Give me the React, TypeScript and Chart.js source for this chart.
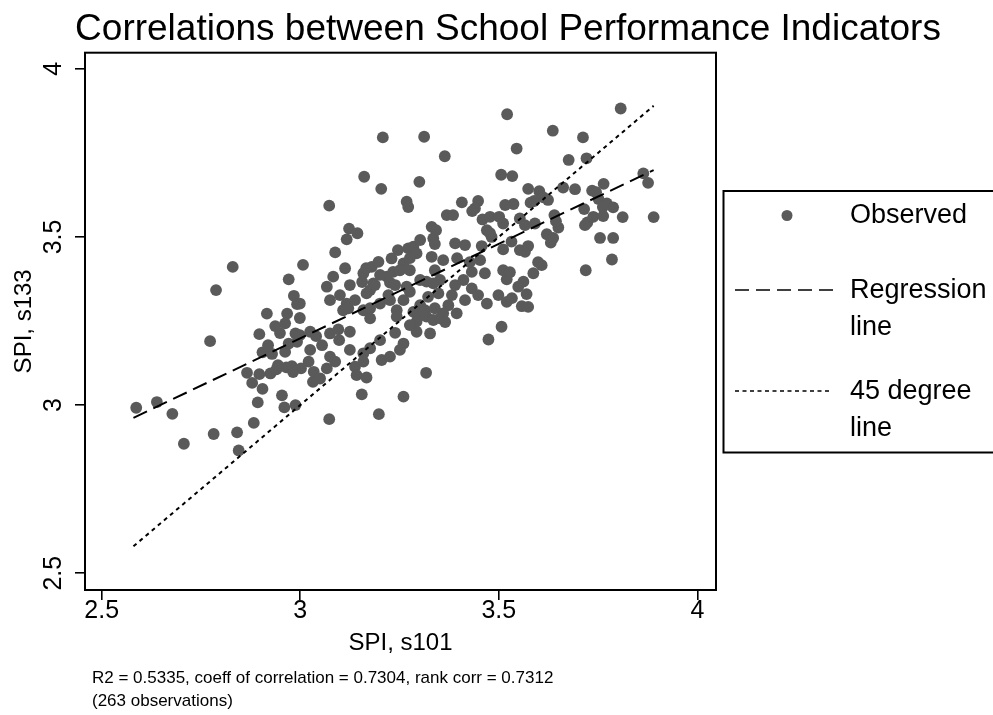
import React, { useEffect, useRef } from 'react';
import { Chart, registerables } from 'chart.js';

Chart.register(...registerables);

const FONT = "'Liberation Sans', Arial, Helvetica, sans-serif";

const titleText = 'Correlations between School Performance Indicators';
const xTitle = 'SPI, s101';
const yTitle = 'SPI, s133';
const xTicks = [2.5, 3, 3.5, 4];
const yTicks = [2.5, 3, 3.5, 4];
const legendObserved = ['Observed'];
const legendRegression = ['Regression', 'line'];
const legendDiagonal = ['45 degree', 'line'];
const noteLines = [
  'R2 = 0.5335, coeff of correlation = 0.7304, rank corr = 0.7312',
  '(263 observations)',
];

const obsX = [
  2.830, 3.007, 2.971, 2.788, 2.984, 2.992, 2.916, 2.967, 2.937, 2.962,
  2.897, 2.988, 3.025, 2.773, 2.971, 2.992, 2.905, 2.929, 2.962, 2.866,
  2.897, 2.925, 2.940, 2.965, 2.979, 3.002, 3.021, 3.034, 3.032, 2.879,
  2.905, 2.587, 2.639, 2.678, 2.893, 2.954, 2.960, 2.988, 2.883, 2.782,
  2.841, 2.707, 2.845, 3.521, 3.208, 3.312, 3.364, 3.161, 3.204, 3.300,
  3.506, 3.073, 3.268, 3.272, 3.407, 3.448, 3.440, 3.369, 3.385, 3.459,
  3.478, 3.501, 3.511, 3.123, 3.144, 3.117, 3.331, 3.335, 3.339, 3.470,
  3.482, 3.088, 3.390, 3.415, 3.457, 3.511, 3.331, 3.360, 3.272, 3.285,
  3.293, 3.230, 3.260, 3.453, 3.083, 3.125, 3.159, 3.180, 3.197, 3.218,
  3.234, 3.251, 3.276, 3.067, 3.184, 3.226, 3.268, 3.318, 3.352, 3.411,
  3.432, 3.465, 3.511, 3.520, 3.395, 3.176, 3.188, 3.167, 3.276, 3.335,
  3.348, 3.322, 3.432, 2.999, 3.100, 3.117, 3.121, 3.159, 3.176, 3.176,
  3.201, 3.222, 3.243, 3.260, 3.243, 3.285, 3.297, 3.293, 3.318, 3.335,
  3.352, 3.373, 3.360, 3.394, 3.327, 3.293, 3.470, 3.499, 3.520, 3.507,
  3.474, 3.040, 2.999, 3.075, 3.096, 3.098, 3.125, 3.239, 3.260, 3.251,
  3.176, 3.159, 3.205, 3.226, 3.075, 3.088, 3.067, 3.050, 3.138, 3.142,
  3.167, 3.159, 3.317, 3.155, 3.260, 3.073, 3.198, 3.807, 3.636, 3.712,
  3.545, 3.676, 3.721, 3.534, 3.864, 3.876, 3.574, 3.602, 3.612, 3.662,
  3.692, 3.735, 3.764, 3.537, 3.580, 3.589, 3.640, 3.715, 3.751, 3.772,
  3.788, 3.812, 3.890, 3.738, 3.763, 3.723, 3.717, 3.553, 3.566, 3.591,
  3.650, 3.621, 3.631, 3.755, 3.788, 3.532, 3.553, 3.566, 3.785, 3.608,
  3.719, 3.587, 3.562, 3.549, 3.570, 3.558, 3.574,
  3.302, 3.314, 3.339, 3.365, 3.276, 3.382, 3.108, 3.138, 2.944, 2.982,
  2.949, 3.276, 3.246, 3.166, 3.201, 3.390, 3.427, 3.533, 3.528, 3.599,
  3.478, 3.433, 3.516, 3.644, 3.762, 3.342, 3.302, 3.226, 3.075, 3.055,
  3.201, 3.025, 3.125, 3.415, 3.448, 3.339, 3.302, 3.239, 3.156, 3.113,
  2.919, 2.999, 3.624, 3.745, 3.574, 3.637,
];

const obsY = [
  3.411, 3.417, 3.374, 3.342, 3.325, 3.300, 3.272, 3.272, 3.235, 3.243,
  3.211, 3.213, 3.218, 3.190, 3.183, 3.188, 3.157, 3.152, 3.158, 3.096,
  3.092, 3.094, 3.106, 3.112, 3.116, 3.109, 3.129, 3.099, 3.069, 3.066,
  3.048, 2.992, 3.009, 2.974, 3.008, 3.029, 2.993, 3.000, 2.947, 2.914,
  2.919, 2.885, 2.865, 3.865, 3.796, 3.798, 3.740, 3.679, 3.643, 3.664,
  3.685, 3.593, 3.605, 3.589, 3.603, 3.607, 3.585, 3.565, 3.565, 3.552,
  3.560, 3.560, 3.540, 3.525, 3.511, 3.493, 3.530, 3.496, 3.479, 3.520,
  3.500, 3.454, 3.481, 3.476, 3.473, 3.463, 3.441, 3.431, 3.466, 3.471,
  3.451, 3.436, 3.421, 3.431, 3.382, 3.357, 3.392, 3.411, 3.426, 3.382,
  3.396, 3.401, 3.401, 3.352, 3.362, 3.364, 3.352, 3.367, 3.372, 3.372,
  3.396, 3.392, 3.401, 3.374, 3.437, 3.342, 3.357, 3.332, 3.337, 3.362,
  3.332, 3.322, 3.347, 3.302, 3.327, 3.302, 3.288, 3.282, 3.288, 3.258,
  3.302, 3.327, 3.282, 3.312, 3.263, 3.277, 3.263, 3.248, 3.263, 3.253,
  3.258, 3.297, 3.273, 3.273, 3.213, 3.218, 3.302, 3.327, 3.307, 3.233,
  3.195, 3.205, 3.208, 3.213, 3.225, 3.193, 3.218, 3.215, 3.183, 3.164,
  3.169, 3.154, 3.134, 3.144, 3.144, 3.129, 3.109, 3.079, 3.114, 3.089,
  3.082, 3.129, 3.096, 3.032, 3.025, 2.958, 2.973, 3.882, 3.816, 3.796,
  3.763, 3.729, 3.734, 3.681, 3.689, 3.661, 3.643, 3.636, 3.618, 3.647,
  3.642, 3.638, 3.658, 3.598, 3.602, 3.607, 3.565, 3.583, 3.613, 3.600,
  3.588, 3.559, 3.559, 3.560, 3.562, 3.543, 3.535, 3.555, 3.535, 3.540,
  3.528, 3.508, 3.483, 3.497, 3.497, 3.486, 3.461, 3.456, 3.433, 3.416,
  3.401, 3.392, 3.367, 3.352, 3.330, 3.294, 3.292,
  3.297, 3.282, 3.288, 3.247, 3.238, 3.327, 3.282, 3.312, 3.119, 3.098,
  3.214, 3.437, 3.461, 3.407, 3.387, 3.357, 3.425, 3.318, 3.395, 3.425,
  3.511, 3.577, 3.595, 3.547, 3.589, 3.520, 3.491, 3.312, 3.312, 3.178,
  3.193, 3.164, 3.164, 3.312, 3.327, 3.401, 3.372, 3.357, 3.366, 3.407,
  3.178, 3.259, 3.610, 3.633, 3.473, 3.497,
];

const regX = [2.58, 3.89];
const regY = [2.962, 3.699];
const diagX = [2.58, 3.89];
const diagY = [2.58, 3.89];

const POINT_COLOR = '#5a5a5a';

const decorPlugin = {
  id: 'decor',
  afterDraw(chart: any) {
    const ctx = chart.ctx;
    const a = chart.chartArea;
    ctx.save();
    // plot frame
    ctx.strokeStyle = '#000';
    ctx.lineWidth = 2;
    ctx.setLineDash([]);
    ctx.strokeRect(a.left, a.top, a.right - a.left, a.bottom - a.top);

    // legend box
    ctx.lineWidth = 2;
    ctx.strokeRect(723.5, 191, 280, 261.5);

    ctx.fillStyle = POINT_COLOR;
    ctx.beginPath();
    ctx.arc(787, 215.5, 5.5, 0, Math.PI * 2);
    ctx.fill();

    ctx.strokeStyle = '#000';
    ctx.lineWidth = 1.6;
    ctx.setLineDash([14, 7]);
    ctx.beginPath();
    ctx.moveTo(735, 290);
    ctx.lineTo(836, 290);
    ctx.stroke();

    ctx.setLineDash([4, 3.5]);
    ctx.beginPath();
    ctx.moveTo(735, 391);
    ctx.lineTo(830, 391);
    ctx.stroke();
    ctx.setLineDash([]);

    ctx.fillStyle = '#000';
    ctx.font = `27px ${FONT}`;
    ctx.textAlign = 'left';
    ctx.textBaseline = 'middle';
    legendObserved.forEach((t, i) => ctx.fillText(t, 850, 216 + i * 37));
    legendRegression.forEach((t, i) => ctx.fillText(t, 850, 291 + i * 37));
    legendDiagonal.forEach((t, i) => ctx.fillText(t, 850, 392 + i * 37));

    // note
    ctx.font = `17px ${FONT}`;
    noteLines.forEach((t, i) => ctx.fillText(t, 92, 678 + i * 23));
    ctx.restore();
  },
};

export default function App() {
  const ref = useRef<HTMLCanvasElement | null>(null);

  useEffect(() => {
    if (!ref.current) return;
    const n = Math.min(obsX.length, obsY.length);
    const observed = [];
    for (let i = 0; i < n; i++) observed.push({ x: obsX[i], y: obsY[i] });

    const chart = new Chart(ref.current, {
      type: 'scatter',
      data: {
        datasets: [
          {
            label: 'Regression line',
            data: regX.map((x, i) => ({ x, y: regY[i] })),
            showLine: true,
            borderColor: '#000',
            borderWidth: 2,
            borderDash: [15, 7],
            pointRadius: 0,
            fill: false,
            order: 0,
          },
          {
            label: '45 degree line',
            data: diagX.map((x, i) => ({ x, y: diagY[i] })),
            showLine: true,
            borderColor: '#000',
            borderWidth: 2,
            borderDash: [4, 4],
            pointRadius: 0,
            fill: false,
            order: 0,
          },
          {
            label: 'Observed',
            data: observed,
            backgroundColor: POINT_COLOR,
            borderWidth: 0,
            pointRadius: 5.9,
            pointHoverRadius: 5.9,
            order: 1,
          },
        ],
      },
      options: {
        responsive: false,
        animation: false,
        events: [],
        layout: { padding: { left: 23, right: 0, top: 0, bottom: 0 } },
        plugins: {
          legend: { display: false },
          tooltip: { enabled: false },
          title: {
            display: true,
            text: titleText,
            color: '#000',
            font: { family: FONT, size: 37, weight: 'normal' },
            padding: { top: 8, bottom: 0.3 },
          },
        },
        scales: {
          x: {
            type: 'linear',
            position: 'bottom',
            min: 2.458,
            max: 4.047,
            afterBuildTicks: (s: any) => {
              s.ticks = xTicks.map((v) => ({ value: v }));
            },
            afterFit: (s: any) => {
              s.height = 125;
            },
            grid: {
              display: true,
              drawOnChartArea: false,
              drawTicks: true,
              tickLength: 10,
              color: '#000',
              lineWidth: 1.6,
            },
            border: { display: true, color: '#000', width: 2 },
            ticks: {
              color: '#000',
              font: { family: FONT, size: 25 },
              padding: -4,
              maxRotation: 0,
              minRotation: 0,
              callback: (v: any) => String(v),
            },
            title: {
              display: true,
              text: xTitle,
              color: '#000',
              font: { family: FONT, size: 24 },
              padding: { top: 0, bottom: 57 },
            },
          },
          y: {
            type: 'linear',
            position: 'left',
            min: 2.45,
            max: 4.048,
            afterBuildTicks: (s: any) => {
              s.ticks = yTicks.map((v) => ({ value: v }));
            },
            afterFit: (s: any) => {
              s.width = 62;
            },
            grid: {
              display: true,
              drawOnChartArea: false,
              drawTicks: true,
              tickLength: 10,
              color: '#000',
              lineWidth: 1.6,
            },
            border: { display: true, color: '#000', width: 2 },
            ticks: {
              color: '#000',
              font: { family: FONT, size: 25 },
              minRotation: 90,
              maxRotation: 90,
              crossAlign: 'center',
              padding: 3.6,
              callback: (v: any) => String(v),
            },
            title: {
              display: true,
              text: yTitle,
              color: '#000',
              font: { family: FONT, size: 24 },
              padding: { top: -13.4, bottom: 0 },
            },
          },
          yRight: {
            type: 'linear',
            position: 'right',
            display: true,
            afterFit: (s: any) => {
              s.width = 277;
            },
            grid: { display: false, drawTicks: false },
            border: { display: false },
            ticks: { display: false },
          },
        },
      },
      plugins: [decorPlugin],
    } as any);

    return () => chart.destroy();
  }, []);

  return (
    <div style={{ position: 'absolute', left: 0, top: 0, width: 993, height: 715, background: '#fff' }}>
      <canvas ref={ref} width={993} height={715} style={{ width: 993, height: 715 }} />
    </div>
  );
}
